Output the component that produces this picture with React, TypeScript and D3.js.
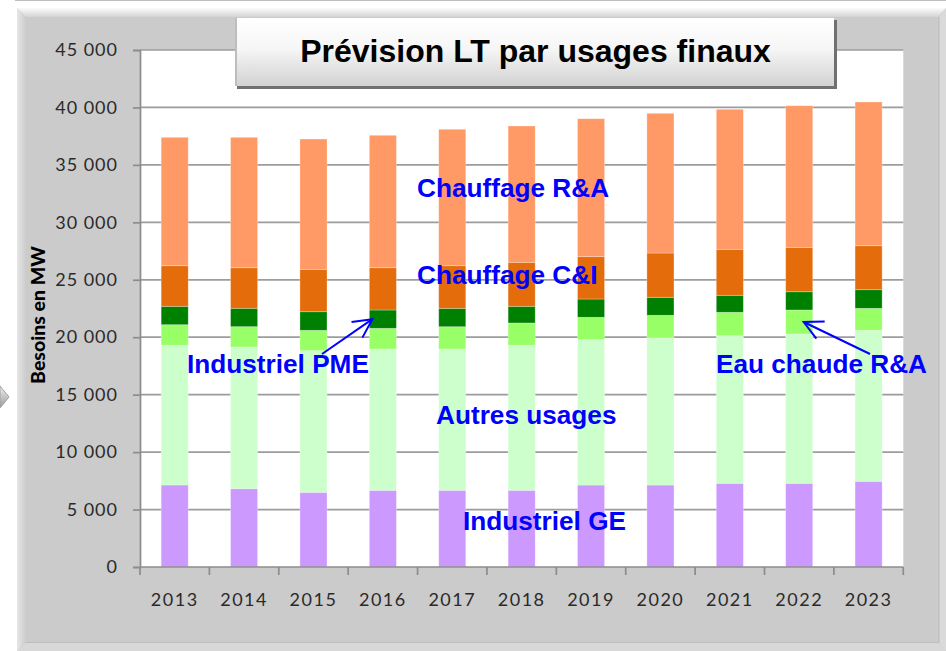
import React, { useEffect, useRef } from "react";
import * as d3 from "d3";

// Values (MW), one array per usage, bottom to top of each stack
const years = ["2013", "2014", "2015", "2016", "2017", "2018", "2019", "2020", "2021", "2022", "2023"];
const industrielGE = [7140, 6815, 6500, 6675, 6675, 6675, 7135, 7135, 7285, 7285, 7460];
const autresUsages = [12160, 12335, 12330, 12300, 12300, 12625, 12650, 12795, 12845, 12995, 13140];
const eauChaudeRA = [1790, 1770, 1770, 1800, 1940, 1940, 1950, 1980, 2040, 2090, 1915];
const industrielPME = [1600, 1600, 1620, 1595, 1600, 1450, 1590, 1565, 1480, 1590, 1620];
const chauffageCI = [3535, 3530, 3690, 3680, 3710, 3830, 3685, 3855, 4005, 3865, 3830];
const chauffageRA = [11175, 11350, 11340, 11525, 11875, 11865, 12010, 12160, 12185, 12325, 12510];
const yTicks = [0, 5000, 10000, 15000, 20000, 25000, 30000, 35000, 40000, 45000];

const seriesKeys = ["ge", "autres", "eau", "pme", "ci", "ra"];
const seriesColors = ["#CC99FF", "#CCFFCC", "#99FF66", "#008000", "#E46C0A", "#FF9966"];

const title = "Prévision LT par usages finaux";
const yLabel = "Besoins en MW";

export default function App() {
	const ref = useRef<SVGSVGElement>(null);

	useEffect(() => {
		const w = 946;
		const h = 651;
		const plot = { left: 140, right: 903.3, top: 50, bottom: 567 };

		const svg = d3.select(ref.current);
		svg.selectAll("*").remove();

		const defs = svg.append("defs");
		const grad = (id: string, stops: [number, string][], vertical = true) => {
			const g = defs
				.append("linearGradient")
				.attr("id", id)
				.attr("x1", 0)
				.attr("y1", 0)
				.attr("x2", vertical ? 0 : 1)
				.attr("y2", vertical ? 1 : 0);
			stops.forEach(([o, c]) => g.append("stop").attr("offset", o).attr("stop-color", c));
		};
		grad("titleGrad", [[0, "#ffffff"], [0.45, "#f6f6f6"], [1, "#d2d2d2"]]);
		grad("topBevel", [[0, "#fbfbfb"], [1, "#d4d4d4"]]);
		grad("leftBevel", [[0, "#e6e6e6"], [1, "#cccccc"]], false);
		grad("arrowGrad", [[0, "#f0f0f0"], [1, "#9a9a9a"]]);

		// page frame
		svg.append("rect").attr("width", w).attr("height", h).attr("fill", "#ffffff");
		svg.append("line").attr("x1", 15).attr("x2", w).attr("y1", 0.5).attr("y2", 0.5).attr("stroke", "#bdbdbd");

		// gray chart panel with bevel
		svg.append("rect").attr("x", 17).attr("y", 8).attr("width", w - 17).attr("height", h - 8).attr("fill", "#cbcbcb");
		svg.append("polygon").attr("points", "17,8 946,8 938,17 26,17").attr("fill", "url(#topBevel)");
		svg.append("polygon").attr("points", "17,8 26,17 26,642 17,651").attr("fill", "url(#leftBevel)");
		svg.append("polygon").attr("points", "946,8 946,651 939,643 939,17").attr("fill", "#dadada");
		svg.append("line").attr("x1", 939).attr("x2", 939).attr("y1", 17).attr("y2", 643).attr("stroke", "#b8b8b8");
		svg.append("polygon").attr("points", "17,651 946,651 939,643 26,643").attr("fill", "#d8d8d8");
		svg.append("line").attr("x1", 26).attr("x2", 939).attr("y1", 642.5).attr("y2", 642.5).attr("stroke", "#bdbdbd");

		// small off-page shape on the left edge
		svg.append("polygon").attr("points", "0,386 9,397 0,408").attr("fill", "url(#arrowGrad)").attr("stroke", "#a0a0a0");

		// plot area
		svg
			.append("rect")
			.attr("x", plot.left)
			.attr("y", plot.top)
			.attr("width", plot.right - plot.left)
			.attr("height", plot.bottom - plot.top)
			.attr("fill", "#ffffff");

		const xScale = d3
			.scaleBand()
			.domain(years)
			.range([plot.left, plot.right])
			.paddingInner(0.61)
			.paddingOuter(0.305);

		const yScale = d3.scaleLinear().domain([0, 45000]).range([plot.bottom, plot.top]);

		const locale = d3.formatLocale({ decimal: ",", thousands: "\u00a0", grouping: [3], currency: ["", " €"] });
		const fmt = locale.format(",d");

		// gridlines
		svg
			.append("g")
			.selectAll("line")
			.data(yTicks.filter(d => d > 0))
			.join("line")
			.attr("x1", plot.left)
			.attr("x2", plot.right)
			.attr("y1", d => yScale(d))
			.attr("y2", d => yScale(d))
			.attr("stroke", "#9c9c9c")
			.attr("stroke-width", 1.7);

		// stacked bars
		const rows = years.map((year, i) => ({
			year,
			ge: industrielGE[i],
			autres: autresUsages[i],
			eau: eauChaudeRA[i],
			pme: industrielPME[i],
			ci: chauffageCI[i],
			ra: chauffageRA[i]
		}));
		const stacked = d3.stack<any>().keys(seriesKeys)(rows);

		svg
			.append("g")
			.selectAll("g")
			.data(stacked)
			.join("g")
			.attr("fill", (d, i) => seriesColors[i])
			.selectAll("rect")
			.data(d => d)
			.join("rect")
			.attr("x", d => xScale(d.data.year) as number)
			.attr("width", xScale.bandwidth())
			.attr("y", d => yScale(d[1]))
			.attr("height", d => yScale(d[0]) - yScale(d[1]))
			.attr("stroke", "#ffffff")
			.attr("stroke-opacity", 0.35)
			.attr("stroke-width", 0.8);

		// y-axis
		const yAxis = d3
			.axisLeft(yScale)
			.tickValues(yTicks)
			.tickSize(7)
			.tickPadding(15)
			.tickFormat(d => fmt(d as number));

		const gy = svg.append("g").attr("transform", `translate(${plot.left}, 0)`).call(yAxis);
		gy.select(".domain").attr("stroke", "#8c8c8c").attr("stroke-width", 1.7);
		gy.selectAll(".tick line").attr("stroke", "#8c8c8c").attr("stroke-width", 1.7);
		gy.selectAll(".tick text")
			.attr("fill", "#2a2a2a")
			.style("font-family", "Lato, 'Liberation Sans', sans-serif")
			.style("font-size", "18px")
			.style("letter-spacing", "1px");

		// x-axis with ticks on the category boundaries
		const step = xScale.step();
		const gx = svg.append("g");
		gx.append("line")
			.attr("x1", plot.left)
			.attr("x2", plot.right)
			.attr("y1", plot.bottom)
			.attr("y2", plot.bottom)
			.attr("stroke", "#8c8c8c")
			.attr("stroke-width", 1.7);
		gx.selectAll(".xt")
			.data(d3.range(years.length + 1))
			.join("line")
			.attr("class", "xt")
			.attr("x1", i => plot.left + i * step)
			.attr("x2", i => plot.left + i * step)
			.attr("y1", plot.bottom)
			.attr("y2", plot.bottom + 8)
			.attr("stroke", "#8c8c8c")
			.attr("stroke-width", 1.7);
		gx.selectAll("text")
			.data(years)
			.join("text")
			.attr("x", d => (xScale(d) as number) + xScale.bandwidth() / 2)
			.attr("y", 606)
			.attr("text-anchor", "middle")
			.attr("fill", "#2a2a2a")
			.style("font-family", "Lato, 'Liberation Sans', sans-serif")
			.style("font-size", "18px")
			.style("letter-spacing", "1.5px")
			.text(d => d);

		// y-axis label
		svg
			.append("text")
			.attr("transform", "translate(45, 315) rotate(-90)")
			.attr("text-anchor", "middle")
			.attr("fill", "#000000")
			.style("font-family", "Lato, 'Liberation Sans', sans-serif")
			.style("font-weight", "900")
			.style("font-size", "19.5px")
			.text(yLabel);

		// title box
		svg.append("rect").attr("x", 237).attr("y", 20).attr("width", 600).attr("height", 69).attr("fill", "#707070");
		svg.append("rect").attr("x", 235).attr("y", 18).attr("width", 599).attr("height", 68).attr("fill", "url(#titleGrad)");
		svg.append("rect").attr("x", 235).attr("y", 18).attr("width", 2).attr("height", 68).attr("fill", "#bdbdbd");
		svg
			.append("text")
			.attr("x", 535.5)
			.attr("y", 62)
			.attr("text-anchor", "middle")
			.attr("fill", "#000000")
			.style("font-family", "'Liberation Sans', Arial, sans-serif")
			.style("font-weight", "700")
			.style("font-size", "32px")
			.text(title);

		// series annotations
		const blue = "#0000FF";
		const labels = [
			{ text: "Chauffage R&A", x: 417, y: 197 },
			{ text: "Chauffage C&I", x: 417, y: 284 },
			{ text: "Industriel PME", x: 187, y: 373 },
			{ text: "Eau chaude R&A", x: 716, y: 373 },
			{ text: "Autres usages", x: 436, y: 424 },
			{ text: "Industriel GE", x: 463, y: 530 }
		];
		svg
			.append("g")
			.selectAll("text")
			.data(labels)
			.join("text")
			.attr("x", d => d.x)
			.attr("y", d => d.y)
			.attr("fill", blue)
			.style("font-family", "'Liberation Sans', Arial, sans-serif")
			.style("font-weight", "700")
			.style("font-size", "26.2px")
			.text(d => d.text);

		// arrows pointing at the small segments
		const mid = (layer: number, i: number) => {
			const s = stacked[layer][i];
			return yScale((s[0] + s[1]) / 2);
		};
		const arrows = [
			{ x1: 322, y1: 354, x2: (xScale("2016") as number) + 3, y2: mid(3, 3) },
			{ x1: 870, y1: 354, x2: (xScale("2022") as number) + 18, y2: mid(2, 9) }
		];
		const ga = svg.append("g").attr("stroke", blue).attr("stroke-width", 2).attr("fill", "none");
		arrows.forEach(a => {
			const back = Math.atan2(a.y1 - a.y2, a.x1 - a.x2);
			const len = 21;
			const spread = (27 * Math.PI) / 180;
			const p1 = [a.x2 + len * Math.cos(back - spread), a.y2 + len * Math.sin(back - spread)];
			const p2 = [a.x2 + len * Math.cos(back + spread), a.y2 + len * Math.sin(back + spread)];
			ga.append("line").attr("x1", a.x1).attr("y1", a.y1).attr("x2", a.x2).attr("y2", a.y2);
			ga.append("path").attr("d", `M${p1[0]},${p1[1]} L${a.x2},${a.y2} L${p2[0]},${p2[1]}`);
		});
	}, []);

	return <svg ref={ref} width={946} height={651} style={{ position: "absolute", left: 0, top: 0 }} />;
}
